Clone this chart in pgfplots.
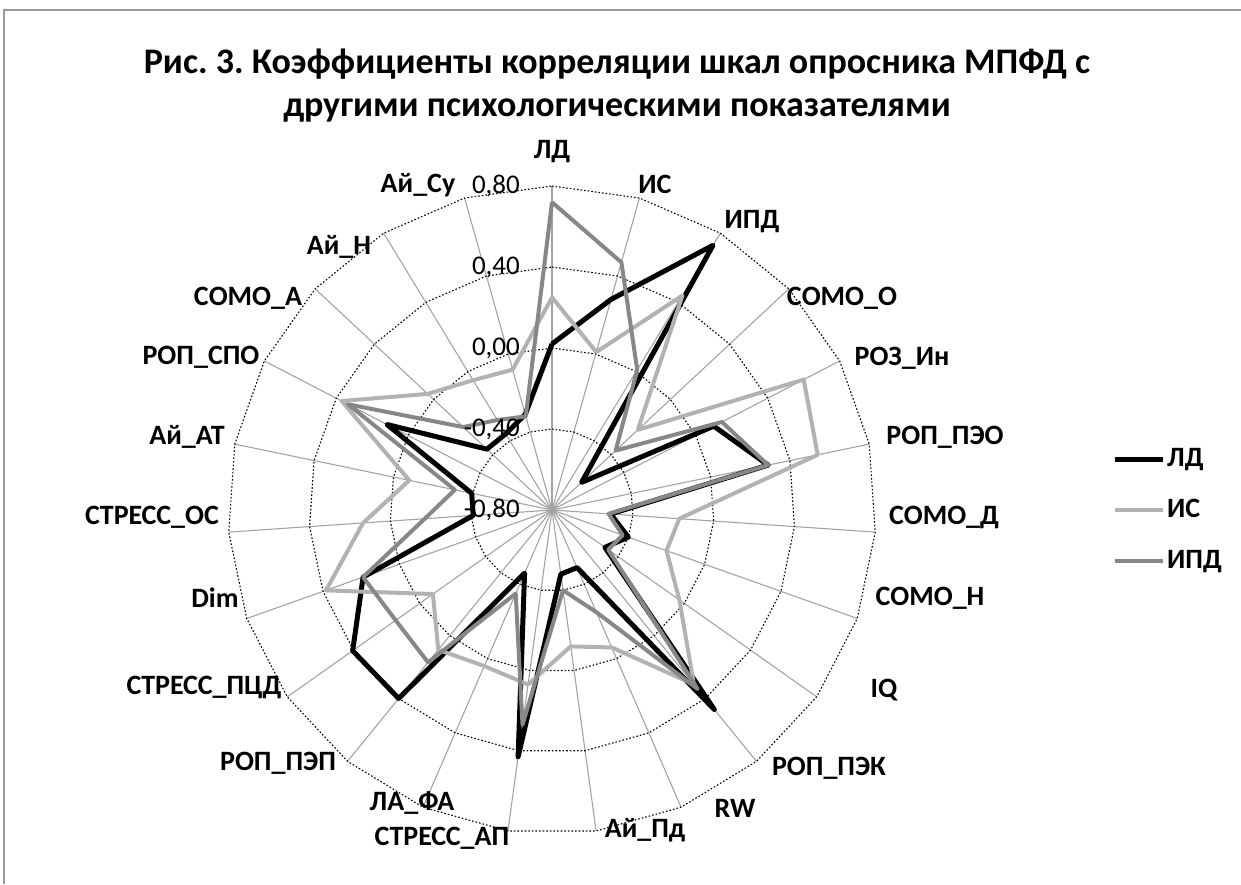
\documentclass[border=0pt]{standalone}
\usepackage{fontspec}
\setmainfont{Carlito}
\usepackage{pgfplots}
\usepackage{pgfplotstable}
\pgfplotsset{compat=1.18}
\frenchspacing
\definecolor{cIS}{gray}{0.70}
\definecolor{cIPD}{gray}{0.53}
\definecolor{cSpoke}{gray}{0.64}

% k = category index (clockwise from top), values are correlation coefficients
\pgfplotstableread{
k   ld     is     ipd
0   0.02   0.25   0.72
1   0.28   0.01   0.47
2   0.73   0.44   0.01
3  -0.60  -0.22  -0.37
4   0.10   0.60   0.145
5   0.29   0.54   0.29
6  -0.51  -0.17  -0.52
7  -0.40  -0.20  -0.43
8  -0.48  -0.03  -0.46
9   0.47   0.31   0.34
10 -0.49  -0.06  -0.25
11 -0.48  -0.12  -0.40
12  0.43   0.07   0.27
13 -0.46   0.04  -0.35
14  0.40   0.09   0.17
15  0.405 -0.08   0.145
16  0.19   0.385  0.19
17 -0.41   0.135 -0.17
18 -0.395 -0.08  -0.31
19  0.118  0.37   0.335
20 -0.36   0.04  -0.20
21 -0.36  -0.05  -0.28
22 -0.31  -0.08  -0.32
23  0.02   0.25   0.72
}\data

\begin{document}
\begin{tikzpicture}
\path[use as bounding box] (0pt,0pt) rectangle (1241pt,884pt);
\draw[gray!80, line width=2pt] (4pt,0pt) -- (4pt,874pt) -- (1241pt,874pt);
\begin{axis}[at={(0pt,0pt)}, anchor=south west,
  width=1241pt, height=884pt, scale only axis,
  xmin=-2.72593, xmax=3.40247, ymin=-1.84691, ymax=2.51852,
  hide axis, clip=false,
  legend style={at={(0.896,0.423)}, anchor=west, draw=none, fill=none,
    font=\fontsize{28}{30}\selectfont\bfseries,
    row sep=21pt, inner sep=0pt,
    nodes={inner sep=2pt, text height=20pt, text depth=6pt}},
  legend cell align=left,
  legend image code/.code={\draw[#1] (0pt,0pt) -- (48pt,0pt);},
]
\pgfplotsinvokeforeach{0,...,22}{
  \draw[cSpoke, line width=1.1pt] (axis cs:0,0) -- (axis cs:{1.6*sin(#1*360/23)},{1.6*cos(#1*360/23)});
}
\pgfplotsinvokeforeach{0.4,0.8,1.2,1.6}{
  \draw[black, line width=1.1pt, dash pattern=on 1.6pt off 2pt]
    (axis cs:0,#1) \foreach \j in {1,...,23}{ -- (axis cs:{#1*sin(\j*360/23)},{#1*cos(\j*360/23)})};
}
\addplot[black, line width=5pt, line join=round, no markers]
  table[x expr={(\thisrow{ld}+0.8)*sin(\thisrow{k}*360/23)}, y expr={(\thisrow{ld}+0.8)*cos(\thisrow{k}*360/23)}]{\data};
\addlegendentry{ЛД}
\addplot[cIS, line width=4pt, line join=round, no markers]
  table[x expr={(\thisrow{is}+0.8)*sin(\thisrow{k}*360/23)}, y expr={(\thisrow{is}+0.8)*cos(\thisrow{k}*360/23)}]{\data};
\addlegendentry{ИС}
\addplot[cIPD, line width=4pt, line join=round, no markers]
  table[x expr={(\thisrow{ipd}+0.8)*sin(\thisrow{k}*360/23)}, y expr={(\thisrow{ipd}+0.8)*cos(\thisrow{k}*360/23)}]{\data};
\addlegendentry{ИПД}
\end{axis}
% title
\node[font=\fontsize{36}{40}\selectfont\bfseries, anchor=base] at (617pt,810pt) {Рис. 3. Коэффициенты корреляции шкал опросника МПФД с};
\node[font=\fontsize{36}{40}\selectfont\bfseries, anchor=base] at (617pt,767pt) {другими психологическими показателями};
% radial tick labels
\begin{scope}[every node/.style={font=\fontsize{27}{30}\selectfont, anchor=east, inner sep=0pt}]
\node at (520pt,698pt) {0,80};
\node at (520pt,617pt) {0,40};
\node at (520pt,536pt) {0,00};
\node at (520pt,455pt) {-0,40};
\node at (520pt,374pt) {-0,80};
\end{scope}
% category labels
\begin{scope}[every node/.style={font=\fontsize{28}{30}\selectfont\bfseries, inner sep=0pt}]
\node at (552pt,732pt) {ЛД};
\node at (655pt,700pt) {ИС};
\node at (752pt,662pt) {ИПД};
\node at (842pt,586pt) {СОМО\_О};
\node at (902pt,526pt) {РОЗ\_Ин};
\node at (945pt,447pt) {РОП\_ПЭО};
\node at (944pt,367pt) {СОМО\_Д};
\node at (930pt,286pt) {СОМО\_Н};
\node at (884pt,194pt) {IQ};
\node at (829pt,116pt) {РОП\_ПЭК};
\node at (735pt,76pt) {RW};
\node at (645pt,54pt) {Ай\_Пд};
\node at (442pt,46pt) {СТРЕСС\_АП};
\node at (412pt,81pt) {ЛА\_ФА};
\node at (278pt,121pt) {РОП\_ПЭП};
\node at (204pt,197pt) {СТРЕСС\_ПЦД};
\node at (215pt,286pt) {Dim};
\node at (152pt,367pt) {СТРЕСС\_ОС};
\node at (187pt,447pt) {Ай\_АТ};
\node at (201pt,527pt) {РОП\_СПО};
\node at (248pt,586pt) {СОМО\_А};
\node at (339pt,637pt) {Ай\_Н};
\node at (418pt,699pt) {Ай\_Су};
\end{scope}
\end{tikzpicture}
\end{document}
